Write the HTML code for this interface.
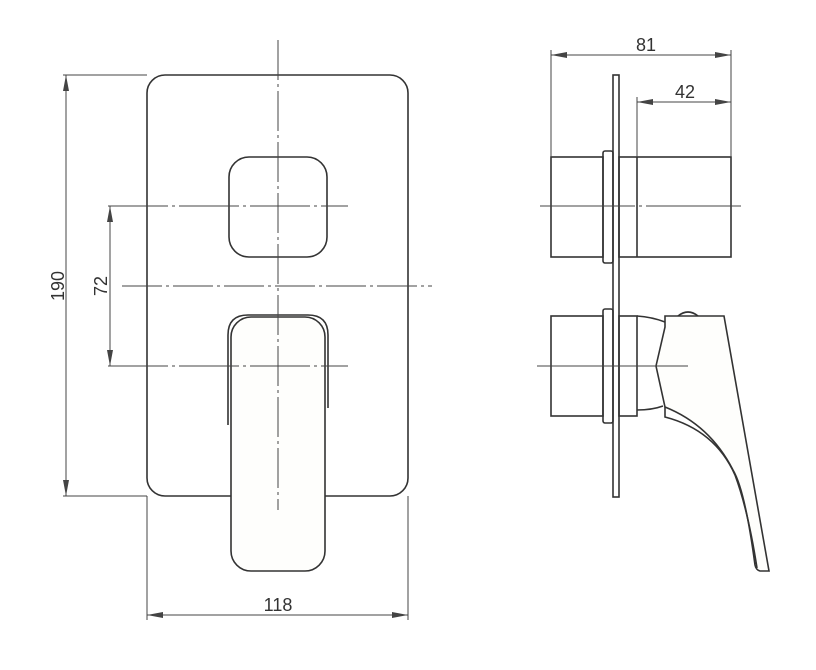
<!DOCTYPE html>
<html><head><meta charset="utf-8"><style>html,body{margin:0;padding:0;background:#fff}svg{display:block}</style></head>
<body>
<svg width="816" height="670" viewBox="0 0 816 670" xmlns="http://www.w3.org/2000/svg">
<defs>
<marker id="a" viewBox="0 0 16 6" refX="16" refY="3" markerWidth="16" markerHeight="6" orient="auto" markerUnits="userSpaceOnUse"><path d="M0,0 L16,3 L0,6 z" fill="#444"/></marker>
</defs>
<g fill="none" stroke="#333" stroke-width="1.6">
<rect x="147" y="75" width="261" height="421" rx="18" fill="#fff"/>
<rect x="229" y="157" width="98" height="100" rx="20"/>
<path d="M228,425 V335 Q228,315 248,315 H308 Q328,315 328,335 V408" fill="#fff"/>
<rect x="231" y="317" width="94" height="254" rx="20" fill="#fefefc"/>
<rect x="613" y="75" width="6" height="422" fill="#fff"/>
<rect x="551" y="157" width="52" height="100"/>
<rect x="603" y="151" width="10" height="112" rx="2"/>
<rect x="619" y="157" width="112" height="100"/>
<line x1="637" y1="157" x2="637" y2="257"/>
<rect x="551" y="316" width="52" height="100"/>
<rect x="603" y="309" width="10" height="114" rx="2"/>
<rect x="619" y="316" width="18" height="100"/>
<path d="M637,316 Q652,317 665,322"/>
<path d="M637,410 Q652,410 663,406"/>
<path d="M678,316 Q688,308 698,316"/>
<path d="M665,316 H724 L769,571 H760 Q756,570 755,565 Q745,490 733,470 Q710,425 665,407 L656,366 L665,327 Z" fill="#fefefc"/>
<path d="M665,407 L665,417 Q715,430 735,475 Q748,510 757,568"/>
</g>
<g stroke="#444" stroke-width="1" fill="none">
<line x1="278" y1="40" x2="278" y2="510" stroke-dasharray="40,4,3,4"/>
<line x1="108" y1="206" x2="348" y2="206" stroke-dasharray="60,4,3,4"/>
<line x1="108" y1="366" x2="348" y2="366" stroke-dasharray="60,4,3,4"/>
<line x1="122" y1="286" x2="432" y2="286" stroke-dasharray="40,4,3,4"/>
<line x1="540" y1="206" x2="742" y2="206" stroke-dasharray="95,4,3,4"/>
<line x1="537" y1="366" x2="688" y2="366"/>
<line x1="63" y1="75" x2="147" y2="75"/>
<line x1="63" y1="496" x2="147" y2="496"/>
<line x1="147" y1="496" x2="147" y2="620"/>
<line x1="408" y1="496" x2="408" y2="620"/>
<line x1="551" y1="50" x2="551" y2="157"/>
<line x1="731" y1="50" x2="731" y2="157"/>
<line x1="637" y1="97" x2="637" y2="157"/>
<line x1="66" y1="286" x2="66" y2="75" marker-end="url(#a)"/>
<line x1="66" y1="286" x2="66" y2="496" marker-end="url(#a)"/>
<line x1="110" y1="286" x2="110" y2="206" marker-end="url(#a)"/>
<line x1="110" y1="286" x2="110" y2="366" marker-end="url(#a)"/>
<line x1="278" y1="615" x2="147" y2="615" marker-end="url(#a)"/>
<line x1="278" y1="615" x2="408" y2="615" marker-end="url(#a)"/>
<line x1="640" y1="55" x2="551" y2="55" marker-end="url(#a)"/>
<line x1="640" y1="55" x2="731" y2="55" marker-end="url(#a)"/>
<line x1="684" y1="102" x2="637" y2="102" marker-end="url(#a)"/>
<line x1="684" y1="102" x2="731" y2="102" marker-end="url(#a)"/>
</g>
<g font-family="Liberation Sans, sans-serif" font-size="18" fill="#333" text-anchor="middle">
<text x="278" y="611">118</text>
<text x="646" y="51">81</text>
<text x="685" y="98">42</text>
<text transform="translate(64,286) rotate(-90)">190</text>
<text transform="translate(107,286) rotate(-90)">72</text>
</g>
</svg>
</body></html>
